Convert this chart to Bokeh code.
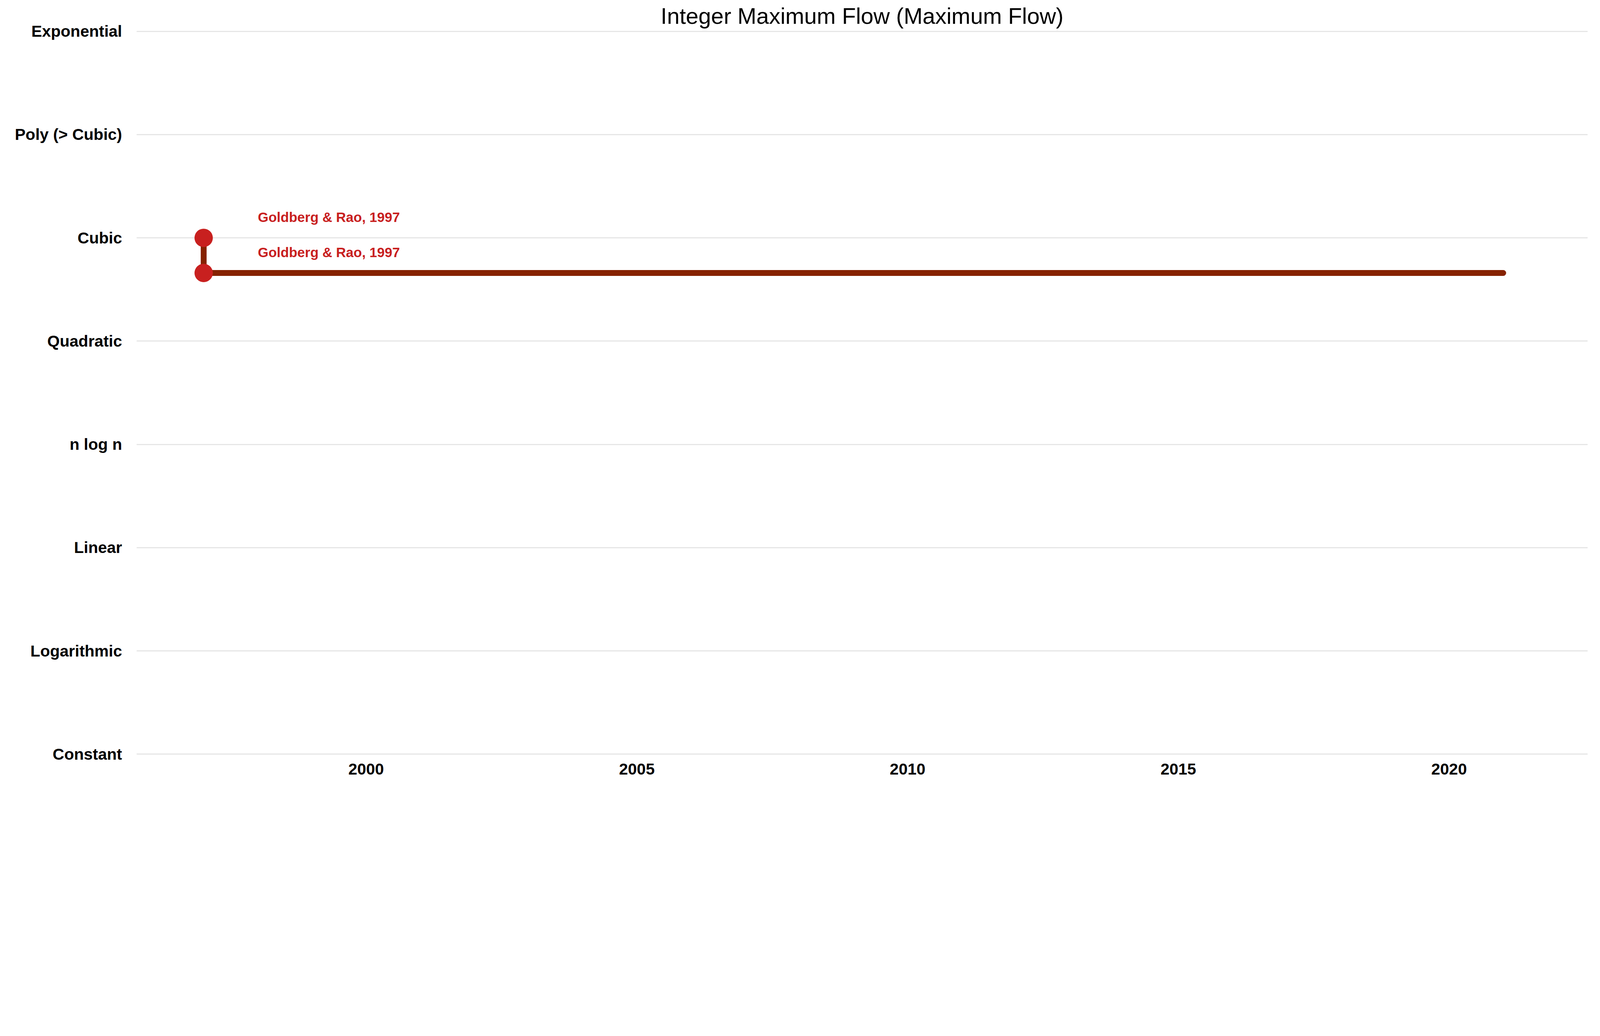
from bokeh.plotting import figure
from bokeh.models import Range1d, FixedTicker
from bokeh.embed import file_html
from bokeh.resources import INLINE
from bokeh.core.properties import value

categories = ["Constant", "Logarithmic", "Linear", "n log n", "Quadratic", "Cubic", "Poly (> Cubic)", "Exponential"]
x_ticks = [2000, 2005, 2010, 2015, 2020]
point_years = [1997, 1997]
point_levels = [5.0, 4.66]
point_labels = ["Goldberg & Rao, 1997", "Goldberg & Rao, 1997"]
step_years = [1997, 1997, 2021]
step_levels = [5.0, 4.66, 4.66]

S = 0.765
def px(v):
    return int(round(v * S))

p = figure(width=px(5337), height=px(2635), output_backend="svg", toolbar_location=None,
           x_range=Range1d(1995.76, 2022.56), y_range=Range1d(-0.01, 7.01),
           title="Integer Maximum Flow (Maximum Flow)",
           min_border_left=px(456), min_border_right=px(25), min_border_bottom=px(110), min_border_top=px(40))
p.title.align = "center"
p.title.text_font = "Liberation Sans"
p.title.text_font_size = f"{px(76)}px"
p.title.text_font_style = "normal"
p.title.text_color = "black"
p.outline_line_color = None

p.yaxis.ticker = FixedTicker(ticks=list(range(len(categories))))
p.yaxis.major_label_overrides = {i: c for i, c in enumerate(categories)}
p.xaxis.ticker = FixedTicker(ticks=x_ticks)
for ax in (p.xaxis, p.yaxis):
    ax.axis_line_color = None
    ax.major_tick_line_color = None
    ax.minor_tick_line_color = None
    ax.major_label_text_font = "Liberation Sans"
    ax.major_label_text_font_style = "bold"
    ax.major_label_text_font_size = f"{px(54)}px"
    ax.major_label_text_color = "black"
p.yaxis.major_label_standoff = px(40)
p.xaxis.major_label_standoff = px(20)
p.xgrid.grid_line_color = None
p.ygrid.grid_line_color = "#e6e6e6"
p.ygrid.grid_line_width = px(4)

p.line(step_years, step_levels, line_color="#862200", line_width=px(20), line_cap="round")
p.scatter(point_years, point_levels, size=px(62), fill_color="#c8201f", line_color=None)
p.text([y + 1.0 for y in point_years], [l + 0.2 for l in point_levels], text=point_labels,
       text_color="#c8201f", text_font=value("Liberation Sans"), text_font_style="bold",
       text_font_size=f"{px(46)}px", text_baseline="middle", text_align="left")

open("out.html", "w").write(file_html(p, INLINE))
